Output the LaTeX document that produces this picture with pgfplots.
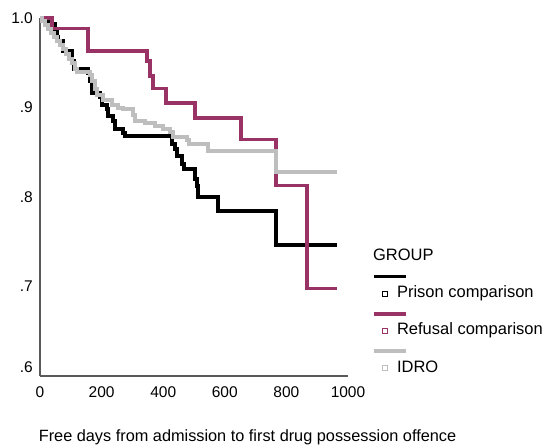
\documentclass[border=0pt]{standalone}
\usepackage{pgfplots}
\pgfplotsset{compat=1.18}
\usepackage{fontspec}
\setmainfont{Liberation Sans}

\definecolor{refusal}{HTML}{993366}
\definecolor{idro}{HTML}{BEBEBE}
\definecolor{axisgray}{HTML}{5A5A5A}

% Kaplan-Meier survival estimates (time in free days, cumulative survival)
\pgfplotstableread{
t    s
0    1.0
26   0.9933
49   0.9844
55   0.9788
58   0.9743
75   0.9631
104  0.9520
110  0.9430
156  0.9385
162  0.9296
169  0.9162
195  0.9117
201  0.9028
218  0.8983
221  0.8905
237  0.8849
244  0.8760
269  0.8715
276  0.8682
429  0.8592
438  0.8536
445  0.8458
461  0.8369
468  0.8313
503  0.8201
510  0.8123
513  0.8000
578  0.7844
766  0.7464
964  0.7464
}\prison

\pgfplotstableread{
t    s
0    1.0
39   0.988
156  0.963
347  0.952
357  0.935
367  0.921
409  0.905
503  0.888
653  0.864
766  0.813
867  0.698
964  0.698
}\refusal

\pgfplotstableread{
t    s
0    1.0
6.5  0.9966
16   0.9922
26   0.9877
36   0.9832
45   0.9788
55   0.9743
65   0.9698
75   0.9654
84   0.9598
94   0.9542
104  0.9497
114  0.9430
120  0.9397
162  0.9363
169  0.9296
179  0.9207
185  0.9140
205  0.9084
234  0.9028
253  0.8994
269  0.8983
302  0.8916
308  0.8849
341  0.8827
373  0.8793
399  0.8760
422  0.8726
432  0.8670
477  0.8637
484  0.8592
545  0.8514
766  0.8279
964  0.8279
}\idro

\pgfplotsset{
  km legend/.style={legend image code/.code={
    \draw[##1, line width=3.5bp, overlay] (-9bp,17bp) -- (23bp,17bp);
    \draw[##1, line width=0.8bp, fill=white] (0bp,-2.5bp) rectangle (5bp,2.5bp);
  }}
}

\begin{document}
\begin{tikzpicture}
\useasboundingbox (0bp,0bp) rectangle (545bp,447bp);
\begin{axis}[
  at={(40bp,71bp)}, anchor=south west,
  width=308bp, height=358bp, scale only axis,
  xmin=0, xmax=1000, ymin=0.6, ymax=1.0,
  axis x line*=bottom, axis y line*=left,
  axis line style={axisgray, line width=1.3bp, -},
  major tick length=0pt,
  xtick={0,200,400,600,800,1000},
  ytick={0.6,0.7,0.8,0.9,1.0},
  yticklabels={\raisebox{9bp}[\height][\depth]{.6},.7,.8,.9,1.0},
  /pgf/number format/1000 sep={},
  /pgf/number format/assume math mode=true,
  tick label style={font=\fontsize{15.5bp}{18bp}\selectfont},
  xticklabel style={anchor=north, inner sep=0pt, yshift=-10bp},
  yticklabel style={anchor=east, inner sep=0pt, xshift=-7bp},
  xlabel={Free days from admission to first drug possession offence},
  xlabel style={at={(axis description cs:0.6737,-0.1816)}, anchor=base,
    inner sep=0pt, font=\fontsize{16.3bp}{19bp}\selectfont},
  legend style={draw=none, fill=none, inner sep=0pt,
    at={(1.1104,0.3631)}, anchor=north west,
    cells={anchor=west},
    nodes={inner sep=2bp, text height=12bp, text depth=4bp},
    /tikz/every odd column/.append style={column sep=7bp},
    row sep=17.3bp,
    font=\fontsize{16.5bp}{20bp}\selectfont},
  clip=false,
]
\addlegendimage{empty legend}
\addlegendentry{\hspace*{-24bp}GROUP}
\addplot[black, line width=3.5bp, const plot, km legend] table[x=t, y=s] {\prison};
\addlegendentry{Prison comparison}
\addplot[refusal, line width=3.5bp, const plot, km legend] table[x=t, y=s] {\refusal};
\addlegendentry{Refusal comparison}
\addplot[idro, line width=3.5bp, const plot, km legend] table[x=t, y=s] {\idro};
\addlegendentry{IDRO}
\end{axis}
\end{tikzpicture}
\end{document}
